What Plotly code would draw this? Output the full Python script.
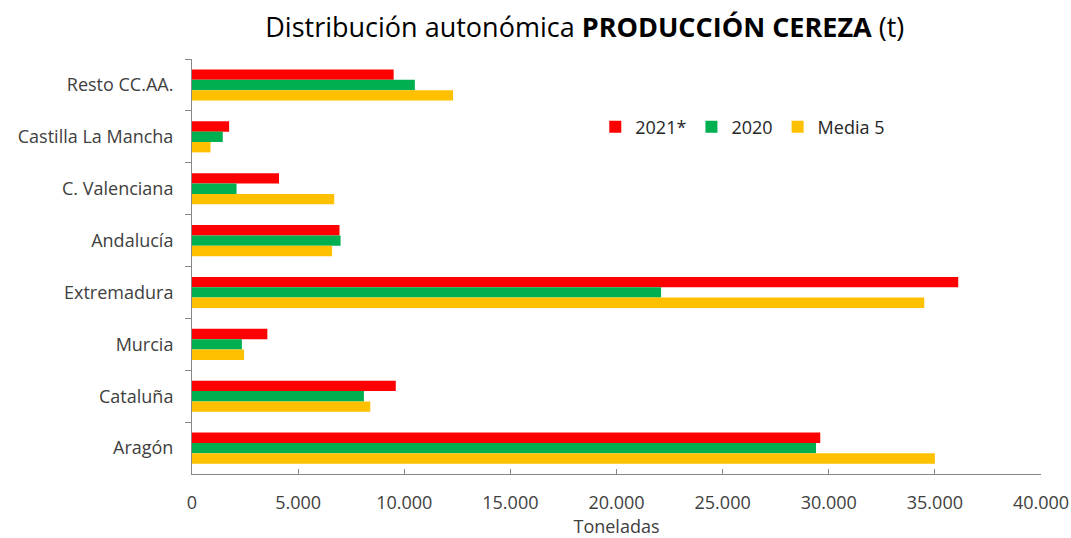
import plotly.graph_objects as go

categories = ["Resto CC.AA.", "Castilla La Mancha", "C. Valenciana", "Andalucía",
              "Extremadura", "Murcia", "Cataluña", "Aragón"]
v2021 = [9500, 1750, 4100, 6950, 36100, 3550, 9600, 29600]
v2020 = [10500, 1450, 2100, 7000, 22100, 2350, 8100, 29400]
media5 = [12300, 870, 6700, 6600, 34500, 2450, 8400, 35000]
series_names = ["2021*", "2020", "Media 5"]
colors = ["#FF0000", "#00B050", "#FFC000"]
x_ticks = [0, 5000, 10000, 15000, 20000, 25000, 30000, 35000, 40000]

FONT = "Open Sans, sans-serif"

fig = go.Figure()
for name, vals, col in zip(series_names, [v2021, v2020, media5], colors):
    fig.add_trace(go.Bar(y=categories, x=vals, name=name, orientation="h",
                         marker=dict(color=col, line=dict(width=0))))

fig.update_layout(
    width=1071, height=538,
    margin=dict(l=192, r=30, t=59, b=64),
    paper_bgcolor="white", plot_bgcolor="white",
    separators=",.",
    barmode="group", bargap=0.4, bargroupgap=0,
    title=dict(text="Distribución autonómica <b>PRODUCCIÓN CEREZA</b> (t)",
               x=0.546, xanchor="center", y=0.948, yanchor="middle",
               font=dict(family=FONT, size=27, color="#000000")),
    legend=dict(orientation="h", x=0.475, xanchor="left", y=0.836, yanchor="middle",
                font=dict(family=FONT, size=18, color="#262626"),
                bgcolor="rgba(0,0,0,0)", itemwidth=30, traceorder="normal"),
    font=dict(family=FONT, color="#404040"),
)
fig.update_xaxes(range=[0, 40000], tickvals=x_ticks, tickformat=",d",
                 automargin=False,
                 showgrid=False, zeroline=False,
                 showline=True, linecolor="#868686", linewidth=1,
                 ticks="inside", ticklen=5, tickcolor="#868686",
                 tickfont=dict(family=FONT, size=18, color="#404040"),
                 ticklabelstandoff=12,
                 title=dict(text="Toneladas", font=dict(family=FONT, size=18, color="#404040"),
                            standoff=8))
fig.update_yaxes(autorange="reversed", automargin=False,
                 showgrid=False, zeroline=False,
                 showline=True, linecolor="#868686", linewidth=1,
                 ticks="outside", tickson="boundaries", ticklen=6, tickcolor="#868686",
                 tickfont=dict(family=FONT, size=18, color="#404040"),
                 ticklabelstandoff=14)

fig.write_html("out.html", config={"displayModeBar": False},
               post_script="document.body.style.margin='0';document.body.style.overflow='hidden';")
